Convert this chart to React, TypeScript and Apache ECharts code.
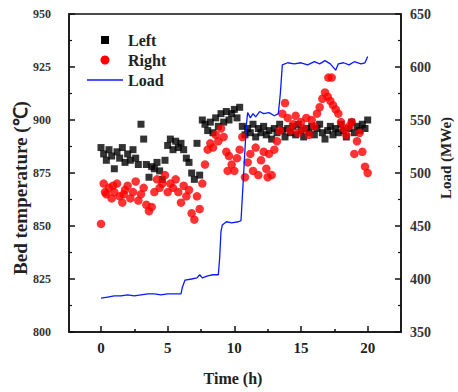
import React, { useEffect, useRef } from "react";
import * as echarts from "echarts";

// Sampling interval of the bed-temperature records (h)
const sampleStep = 0.2;

// Left-side bed temperature (°C), one value every sampleStep hours from 0 h to 20 h
const leftTemp = [
  887, 884, 881, 886, 883, 877, 885, 882, 887, 880,
  884, 881, 886, 882, 879, 898, 891, 879, 873, 878,
  877, 880, 876, 872, 881, 888, 891, 886, 890, 887,
  889, 886, 882, 880, 875, 872, 889, 874, 900, 898,
  895, 899, 894, 901, 897, 903, 899, 904, 900, 903,
  905, 901, 906, 897, 893, 896, 894, 898, 892, 896,
  894, 897, 893, 895, 891, 896, 894, 898, 895, 892,
  896, 894, 897, 893, 898, 895, 892, 896, 894, 897,
  893, 896, 898, 894, 891, 895, 897, 893, 896, 894,
  898, 895, 892, 896, 899, 894, 897, 895, 898, 896,
  900,
];

// Right-side bed temperature (°C), same sampling
const rightTemp = [
  851, 870, 865, 868, 863, 866, 870, 864, 861, 867,
  869, 863, 866, 871, 862, 865, 868, 860, 857, 859,
  866, 872, 868, 870, 874, 866, 870, 868, 872, 866,
  861, 869, 864, 867, 856, 853, 864, 858, 870, 879,
  886, 889, 887, 893, 890, 896, 892, 885, 883, 879,
  876, 882, 886, 892, 873, 880, 884, 876, 887, 874,
  881, 885, 877, 884, 874, 886, 890, 895, 903, 908,
  901, 895, 898, 902, 894, 899, 896, 901, 893, 900,
  897, 903, 906, 910, 913, 911, 909, 907, 905, 903,
  899, 896, 893, 897, 899, 884, 890, 894, 885, 878,
  875,
];

// Extra right-side readings [h, °C]
const rightExtra = [
  [17.05, 920],
  [17.3, 920],
  [0.3, 866],
  [0.9, 869],
  [1.7, 865],
  [9.5, 876],
  [12.5, 873],
];

// Unit load [h, MWe]
const loadPoints = [
  [0, 382], [0.5, 383], [1, 384], [1.5, 384], [2, 385], [2.5, 384], [3, 385],
  [3.5, 386], [4, 386], [4.5, 385], [5, 386], [5.5, 386], [6, 386], [6.1, 392],
  [6.3, 399], [6.8, 400], [7.2, 401], [7.4, 404], [7.6, 401], [8, 403],
  [8.4, 404], [8.8, 404], [8.9, 420], [9.0, 445], [9.1, 451], [9.4, 454],
  [9.8, 453], [10.3, 454], [10.5, 455], [10.7, 500], [10.9, 545], [11.0, 557],
  [11.2, 552], [11.4, 556], [11.6, 553], [11.9, 558], [12.2, 556], [12.6, 557],
  [13.0, 554], [13.3, 556], [13.45, 575], [13.6, 602], [14, 604], [14.5, 603],
  [15, 604], [15.5, 602], [16, 605], [16.4, 603], [16.8, 606], [17.2, 603],
  [17.6, 597], [17.8, 603], [18.2, 604], [18.6, 602], [19, 605], [19.5, 603],
  [19.8, 604], [20, 610],
];

const xMajorTicks = [0, 5, 10, 15, 20];
const xMinorTicks = [2.5, 7.5, 12.5, 17.5];

const FONT = "'Liberation Serif', 'Times New Roman', serif";

export default function App() {
  const ref = useRef<HTMLDivElement>(null);

  useEffect(() => {
    const chart = echarts.init(ref.current!, null, { renderer: "svg" });

    const leftData = leftTemp.map((v, i) => [+(i * sampleStep).toFixed(2), v]);
    const rightData = rightTemp
      .map((v, i) => [+(i * sampleStep).toFixed(2), v])
      .concat(rightExtra);

    const axisLine = { show: true, onZero: false, lineStyle: { color: "#111", width: 1.5 } };

    chart.setOption({
      animation: false,
      grid: {
        left: 69,
        right: 57,
        top: 14,
        bottom: 60,
        show: true,
        borderColor: "#111",
        borderWidth: 1.5,
      },
      xAxis: [
        {
          type: "value",
          min: -2.4,
          max: 22.5,
          axisLine,
          splitLine: { show: false },
          axisTick: {
            show: true,
            inside: true,
            length: 6,
            customValues: xMajorTicks,
            lineStyle: { color: "#111", width: 1.5 },
          },
          axisLabel: {
            customValues: xMajorTicks,
            margin: 8,
            fontFamily: FONT,
            fontWeight: "bold",
            fontSize: 15,
            color: "#222",
          },
        },
        {
          type: "value",
          min: -2.4,
          max: 22.5,
          position: "bottom",
          axisLine: { show: false, onZero: false },
          splitLine: { show: false },
          axisTick: {
            show: true,
            inside: true,
            length: 3,
            customValues: xMinorTicks,
            lineStyle: { color: "#111", width: 1.5 },
          },
          axisLabel: { show: false },
        },
      ],
      yAxis: [
        {
          type: "value",
          min: 800,
          max: 950,
          interval: 25,
          position: "left",
          axisLine,
          splitLine: { show: false },
          axisTick: { show: true, inside: true, length: 6, lineStyle: { color: "#111", width: 1.5 } },
          minorTick: { show: true, splitNumber: 2, length: 3, lineStyle: { color: "#111", width: 1.2 } },
          axisLabel: {
            margin: 18,
            fontFamily: FONT,
            fontWeight: "bold",
            fontSize: 12,
            color: "#333",
          },
        },
        {
          type: "value",
          min: 350,
          max: 650,
          interval: 50,
          position: "right",
          axisLine,
          splitLine: { show: false },
          axisTick: { show: true, inside: true, length: 6, lineStyle: { color: "#111", width: 1.5 } },
          minorTick: { show: true, splitNumber: 2, length: 3, lineStyle: { color: "#111", width: 1.2 } },
          axisLabel: {
            margin: 9,
            fontFamily: FONT,
            fontWeight: "bold",
            fontSize: 14,
            color: "#333",
          },
        },
      ],
      series: [
        {
          name: "Left",
          type: "scatter",
          xAxisIndex: 0,
          yAxisIndex: 0,
          symbol: "rect",
          symbolSize: 7,
          itemStyle: { color: "#000" },
          data: leftData,
        },
        {
          name: "Right",
          type: "scatter",
          xAxisIndex: 0,
          yAxisIndex: 0,
          symbol: "circle",
          symbolSize: 8.5,
          itemStyle: { color: "#ff0000" },
          data: rightData,
        },
        {
          name: "Load",
          type: "line",
          xAxisIndex: 0,
          yAxisIndex: 1,
          showSymbol: false,
          symbol: "none",
          lineStyle: { color: "#0a1aff", width: 1.3 },
          data: loadPoints,
        },
      ],
      graphic: [
        { type: "rect", shape: { x: 101, y: 36, width: 8, height: 8 }, style: { fill: "#000" } },
        { type: "circle", shape: { cx: 105, cy: 60, r: 4.5 }, style: { fill: "#ff0000" } },
        { type: "line", shape: { x1: 87, y1: 80, x2: 123, y2: 80 }, style: { stroke: "#0a1aff", lineWidth: 1.5 } },
        {
          type: "text",
          x: 128,
          y: 40,
          style: { text: "Left", font: `bold 16px ${FONT}`, fill: "#222", verticalAlign: "middle" },
        },
        {
          type: "text",
          x: 128,
          y: 60,
          style: { text: "Right", font: `bold 16px ${FONT}`, fill: "#222", verticalAlign: "middle" },
        },
        {
          type: "text",
          x: 128,
          y: 80,
          style: { text: "Load", font: `bold 16px ${FONT}`, fill: "#222", verticalAlign: "middle" },
        },
        {
          type: "text",
          x: 20,
          y: 188,
          rotation: Math.PI / 2,
          style: {
            text: "Bed temperature (℃)",
            font: `bold 19px ${FONT}`,
            fill: "#222",
            align: "center",
            verticalAlign: "middle",
          },
        },
        {
          type: "text",
          x: 446,
          y: 158,
          rotation: Math.PI / 2,
          style: {
            text: "Load (MWe)",
            font: `bold 15px ${FONT}`,
            fill: "#222",
            align: "center",
            verticalAlign: "middle",
          },
        },
        {
          type: "text",
          x: 233,
          y: 378,
          style: {
            text: "Time (h)",
            font: `bold 16px ${FONT}`,
            fill: "#222",
            align: "center",
            verticalAlign: "middle",
          },
        },
      ],
    });

    return () => chart.dispose();
  }, []);

  return (
    <div
      ref={ref}
      style={{ position: "absolute", left: 0, top: 0, width: 458, height: 392 }}
    />
  );
}
